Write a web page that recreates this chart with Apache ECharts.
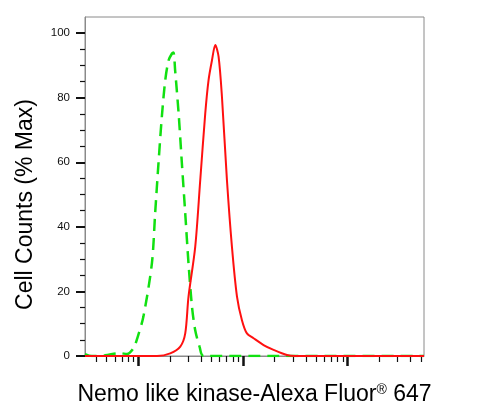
<!DOCTYPE html>
<html>
<head>
<meta charset="utf-8">
<script src="https://cdn.jsdelivr.net/npm/echarts@6/dist/echarts.min.js"></script>
<style>html,body{margin:0;padding:0;background:#fff;}#c{width:486px;height:414px;}</style>
</head>
<body>
<div id="c"></div>
<script>
// Fluorescence intensity (log scale) and % Max values
const redX = [31, 151, 202, 252, 281, 302, 350, 391, 436, 469, 506, 544, 585, 630, 703, 785, 877, 978, 1091, 1262, 1573, 1960, 2630, 3160, 53600];
const redY = [0, 0, 0.8, 2.9, 7, 18.4, 33.8, 54.5, 75, 85.4, 91.6, 96.3, 92.7, 80.3, 54.5, 33.8, 18.4, 11.1, 7, 5.5, 3.4, 1.9, 0.3, 0, 0];
const greenX = [31, 36, 48, 67, 78, 90, 98.5, 112, 135, 145, 156, 168, 181, 195, 210, 217, 225, 243, 261, 281, 302, 326, 350, 385, 421, 53600];
const greenY = [0.6, 0, 0.2, 0.9, 0.6, 2.4, 5.8, 12.2, 28.7, 44.2, 59.7, 74.1, 85.4, 91.6, 93.7, 94, 88.5, 75.1, 59.7, 44.2, 28.7, 15.3, 8, 2.9, 0, 0];
const yTickLabels = [0, 20, 40, 60, 80, 100];
const yMinorTicks = [5, 10, 15, 25, 30, 35, 45, 50, 55, 65, 70, 75, 85, 90, 95];
const xMajorTicks = [100, 1000, 10000];
const xMinorTicks = [40, 50, 60, 70, 80, 90, 200, 300, 400, 500, 600, 700, 800, 900, 2000, 3000, 4000, 5000, 6000, 7000, 8000, 9000, 20000, 30000, 40000, 50000];
const xTitle = 'Nemo like kinase-Alexa Fluor{sup|®} 647';
const yTitle = 'Cell Counts (% Max)';

const redData = redX.map((x, i) => [x, redY[i]]);
const greenData = greenX.map((x, i) => [x, greenY[i]]);

const FONT = 'Liberation Sans, Arial, sans-serif';
const xMin = 31, xMax = 53600;

const chart = echarts.init(document.getElementById('c'), null, {renderer: 'canvas'});
chart.setOption({
  animation: false,
  backgroundColor: '#fff',
  grid: {left: 85, top: 17, right: 62, bottom: 58, show: true, borderColor: '#8a8a8a', borderWidth: 1, backgroundColor: 'transparent'},
  xAxis: [{
    type: 'log', min: xMin, max: xMax, logBase: 10,
    axisLine: {show: true, lineStyle: {color: '#8a8a8a', width: 1}},
    axisTick: {show: true, customValues: xMajorTicks, length: 10, lineStyle: {color: '#111', width: 2.5}},
    axisLabel: {show: false},
    splitLine: {show: false},
    minorTick: {show: false},
    name: xTitle,
    nameLocation: 'middle',
    nameGap: 27,
    nameTextStyle: {fontFamily: FONT, fontSize: 23, color: '#000', rich: {sup: {fontFamily: FONT, fontSize: 14, color: '#000', verticalAlign: 'top', lineHeight: 14, padding: [0, 0, 8, 0]}}}
  }, {
    type: 'log', min: xMin, max: xMax, logBase: 10,
    axisLine: {show: false},
    axisTick: {show: true, customValues: xMinorTicks, length: 6, lineStyle: {color: '#111', width: 1.2}},
    axisLabel: {show: false},
    splitLine: {show: false},
    position: 'bottom'
  }],
  yAxis: [{
    type: 'value', min: 0, max: 105,
    axisLine: {show: true, lineStyle: {color: '#8a8a8a', width: 1}},
    axisTick: {show: true, customValues: yTickLabels, length: 9, lineStyle: {color: '#111', width: 2}},
    axisLabel: {show: true, customValues: yTickLabels, margin: 15, fontFamily: FONT, fontSize: 11.5, color: '#111'},
    splitLine: {show: false},
    name: yTitle,
    nameLocation: 'middle',
    nameRotate: 90,
    nameGap: 48,
    nameTextStyle: {fontFamily: FONT, fontSize: 23, color: '#000', padding: [0, 36, 0, 0]}
  }, {
    type: 'value', min: 0, max: 105, position: 'left',
    axisLine: {show: false},
    axisTick: {show: true, customValues: yMinorTicks, length: 5, lineStyle: {color: '#111', width: 1.2}},
    axisLabel: {show: false},
    splitLine: {show: false}
  }],
  series: [{
    type: 'line', name: 'isotype', data: greenData, xAxisIndex: 0, yAxisIndex: 0,
    showSymbol: false, smooth: 0.3,
    lineStyle: {color: '#11e011', width: 2.5, type: [12, 7]},
    z: 3
  }, {
    type: 'line', name: 'sample', data: redData, xAxisIndex: 0, yAxisIndex: 0,
    showSymbol: false, smooth: 0.3,
    lineStyle: {color: '#ff1010', width: 2},
    z: 4
  }]
});
</script>
</body>
</html>
